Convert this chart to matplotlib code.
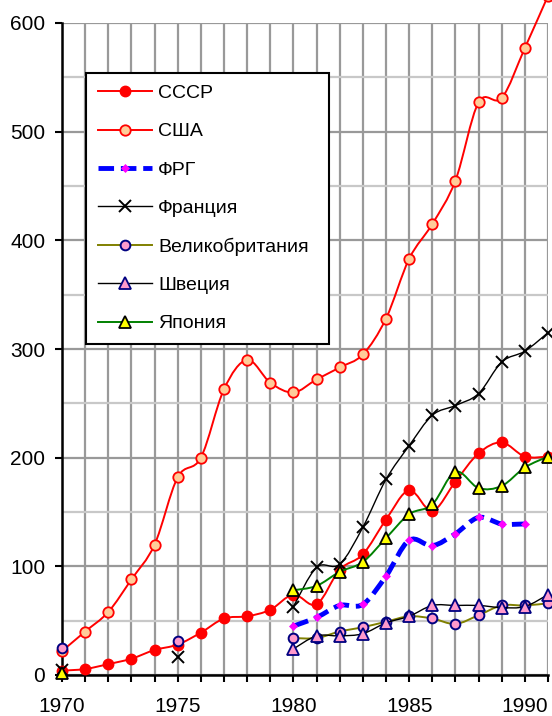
import numpy as np
import matplotlib.pyplot as plt
from matplotlib.path import Path
from matplotlib.patches import PathPatch
from matplotlib.lines import Line2D

plt.rcParams['font.family'] = ['Liberation Sans', 'DejaVu Sans']

nan = np.nan
years = list(range(1970, 1992))

ussr = [4, 5.5, 10, 15, 23, 28, 39, 52, 54, 60, 74, 65, 97, 111, 143, 170, 151, 178, 204, 214, 201, 201]
usa = [22, 40, 58, 88, 120, 182, 200, 263, 290, 269, 260, 272, 283, 295, 328, 383, 415, 455, 527, 531, 577, 625]
frg = [nan] * 10 + [45, 53, 64, 65, 91, 124, 119, 130, 145, 139, 139, nan]
france = [5, nan, nan, nan, nan, 17, nan, nan, nan, nan,
          63, 99, 102, 136, 180, 211, 239, 248, 259, 288, 298, 315]
uk = [25, nan, nan, nan, nan, 31, nan, nan, nan, nan,
      34, 34, 40, 44, 49, 54, 52, 47, 55, 64, 64, 66]
sweden = [nan] * 10 + [24, 36, 36, 38, 48, 54, 64, 64, 64, 62, 63, 74]
japan = [2] + [nan] * 9 + [78, 82, 95, 104, 126, 148, 157, 187, 172, 174, 191, 201]

names = ['СССР', 'США', 'ФРГ', 'Франция', 'Великобритания', 'Швеция', 'Япония']
series = [ussr, usa, frg, france, uk, sweden, japan]

# line colour, width, dashes, marker, size, face, edge
styles = [
    dict(color='#ff0000', lw=1.4, ls='-', marker='o', ms=7.5, mfc='#ff0000', mec='#ff0000', mew=1.0),
    dict(color='#ff0000', lw=1.4, ls='-', marker='o', ms=7.5, mfc='#ffcc99', mec='#ff0000', mew=1.3),
    dict(color='#0000ff', lw=3.5, ls=(0, (3.2, 1.4)), marker='D', ms=4.5, mfc='#ff00ff', mec='#ff00ff', mew=0.5),
    dict(color='#000000', lw=1.0, ls='-', marker='x', ms=8, mfc='none', mec='#000000', mew=1.4),
    dict(color='#808000', lw=1.4, ls='-', marker='o', ms=7, mfc='#ff99cc', mec='#000080', mew=1.4),
    dict(color='#000000', lw=1.0, ls='-', marker='^', ms=8, mfc='#ff99cc', mec='#000080', mew=1.3),
    dict(color='#008000', lw=1.4, ls='-', marker='^', ms=8, mfc='#ffff00', mec='#000000', mew=1.3),
]


def smooth_path(xs, ys):
    # Catmull-Rom segments as cubic Bezier, split at missing years
    verts, codes = [], []
    runs, cur = [], []
    for x, y in zip(xs, ys):
        if np.isnan(y):
            if cur:
                runs.append(cur)
            cur = []
        else:
            cur.append((x, y))
    if cur:
        runs.append(cur)
    for run in runs:
        if len(run) < 2:
            continue
        p = np.array(run, dtype=float)
        verts.append(p[0])
        codes.append(Path.MOVETO)
        n = len(p)
        for i in range(n - 1):
            p0 = p[i - 1] if i > 0 else p[i]
            p3 = p[i + 2] if i + 2 < n else p[i + 1]
            c1 = p[i] + (p[i + 1] - p0) / 6
            c2 = p[i + 1] - (p3 - p[i]) / 6
            verts += [c1, c2, p[i + 1]]
            codes += [Path.CURVE4] * 3
    if not verts:
        return None
    return Path(verts, codes)


fig = plt.figure(figsize=(5.52, 7.16), dpi=100)
ax = fig.add_axes([62 / 552, 1 - 675 / 716, 486 / 552, 652 / 716])

ax.set_xlim(1970, 1991)
ax.set_ylim(0, 600)

ax.set_yticks(range(0, 601, 100))
ax.set_yticks(range(50, 600, 100), minor=True)
ax.set_xticks(range(1970, 1991, 5))
ax.set_xticks(years, minor=True)
ax.grid(True, which='major', axis='y', color='#999999', lw=1.6, zorder=0)
ax.grid(True, which='minor', axis='y', color='#c8c8c8', lw=1.6, zorder=0)
ax.grid(True, which='both', axis='x', color='#999999', lw=1.6, zorder=0)
ax.set_axisbelow(True)

ax.tick_params(axis='both', which='major', labelsize=15, length=5, width=1.5,
               direction='out', colors='black')
ax.tick_params(axis='x', which='minor', length=5, width=1.5, direction='out')
ax.tick_params(axis='y', which='minor', length=0)
ax.tick_params(axis='x', which='major', pad=10.5)
ax.tick_params(axis='y', which='major', pad=7)

for side in ('top', 'right'):
    ax.spines[side].set_visible(False)
ax.spines['left'].set_linewidth(1.8)
ax.spines['bottom'].set_linewidth(1.8)

handles = []
for k, (name, vals, st) in enumerate(zip(names, series, styles)):
    z = 3 + k
    path = smooth_path(years, vals)
    if path is not None:
        patch = PathPatch(path, facecolor='none', edgecolor=st['color'], lw=st['lw'],
                          linestyle=st['ls'], zorder=z, capstyle='butt')
        if name == 'США':
            patch.set_clip_on(False)
        ax.add_patch(patch)
    ax.plot(years, vals, linestyle='none', marker=st['marker'], ms=st['ms'],
            mfc=st['mfc'], mec=st['mec'], mew=st['mew'], zorder=z + 0.5,
            clip_on=False)
    handles.append(Line2D([], [], color=st['color'], lw=st['lw'], ls=st['ls'],
                          marker=st['marker'], ms=st['ms'], mfc=st['mfc'],
                          mec=st['mec'], mew=st['mew'], label=name))

leg = ax.legend(handles=handles, loc='upper left', mode='expand',
                bbox_to_anchor=(86 / 552, 1 - 339 / 716, 243 / 552, 266 / 716),
                bbox_transform=fig.transFigure,
                borderaxespad=0, fontsize=14, handlelength=2.8, handletextpad=0.3,
                labelspacing=1.06, borderpad=0.6, fancybox=False, framealpha=1,
                edgecolor='black')
leg.get_frame().set_linewidth(1.5)
leg.set_zorder(20)

fig.savefig('out.png', dpi=100)
